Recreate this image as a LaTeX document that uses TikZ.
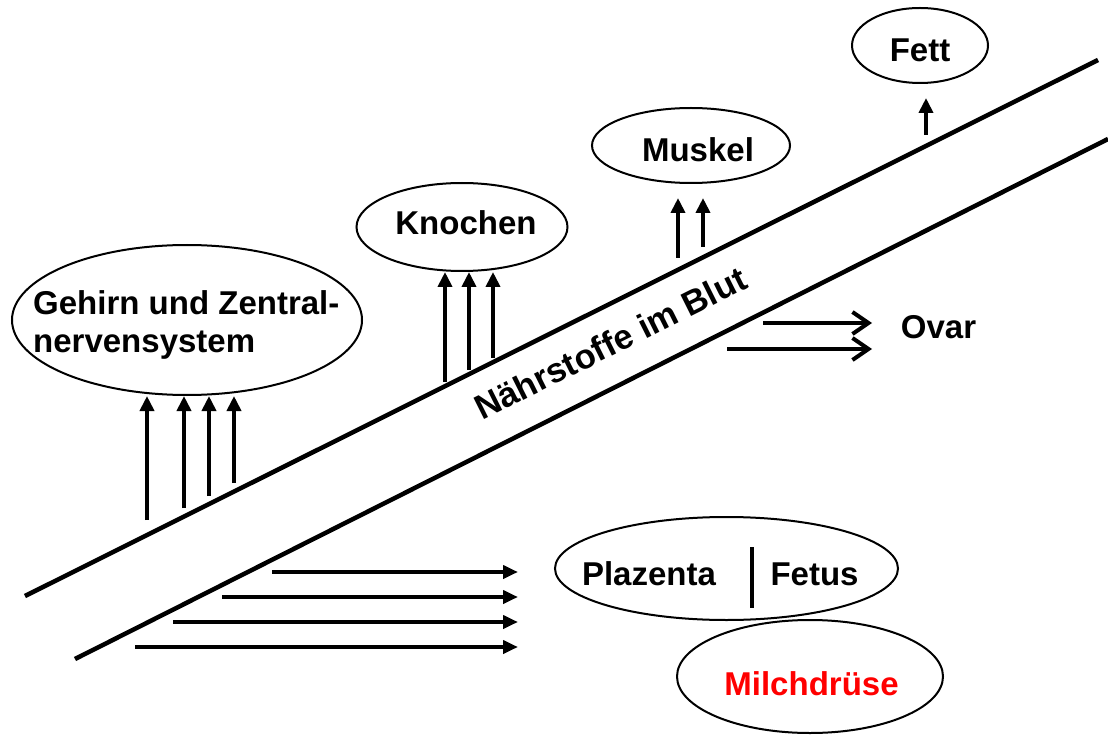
\documentclass[tikz,border=0pt]{standalone}
\usepackage{fontspec}
\setmainfont{Liberation Sans}
\usetikzlibrary{arrows.meta,shapes.geometric}
\begin{document}
\begin{tikzpicture}[x=1pt,y=-1pt,
  organ/.style={draw, line width=2pt, ellipse, inner sep=0pt},
  lbl/.style={font=\fontsize{33}{37}\selectfont\bfseries, inner sep=0pt, anchor=base},
  vessel/.style={line width=4.5pt},
  up/.style={line width=4pt, -{Triangle[length=15pt,width=14pt]}},
  flow/.style={line width=4pt, -{Triangle[length=15pt,width=13pt]}},
  open/.style={line width=4pt, -{Straight Barb[length=16pt,width=22pt]}},
  bar/.style={line width=4.5pt}
]
\useasboundingbox (0,0) rectangle (1108,735);

% blood vessel
\coordinate (v1a) at (25,596);
\coordinate (v1b) at (1098,60);
\coordinate (v2a) at (75,659);
\coordinate (v2b) at (1108,139);
\draw[vessel] (v1a) -- (v1b);
\draw[vessel] (v2a) -- (v2b);
\node[lbl, font=\fontsize{34.5}{37}\selectfont\bfseries, rotate=26.57] (blut) at (616,354) {Nährstoffe im Blut};

% organs
\node[organ, minimum width=350pt, minimum height=150pt] (g) at (187,320) {};
\node[lbl, anchor=base west] (g1) at (33,315) {Gehirn und Zentral-};
\node[lbl, anchor=base west] (g2) at (33,352) {nervensystem};

\node[organ, minimum width=211pt, minimum height=88pt] (k) at (462,227) {};
\node[lbl] (kl) at (466,235) {Knochen};

\node[organ, minimum width=198pt, minimum height=75pt] (m) at (691,145.5) {};
\node[lbl] (ml) at (698,162) {Muskel};

\node[organ, minimum width=136pt, minimum height=75pt] (f) at (920,45.5) {};
\node[lbl] (fl) at (920,62) {Fett};

\node[organ, minimum width=343pt, minimum height=103pt] (pf) at (726.5,568.5) {};
\node[lbl] (pl) at (649,585) {Plazenta};
\node[lbl] (fe) at (814.5,585) {Fetus};
\coordinate (bt) at (752,547);
\coordinate (bb) at (752,608);
\draw[bar] (bt) -- (bb);

\node[organ, minimum width=266pt, minimum height=113pt] (md) at (810,676.5) {};
\node[lbl, text=red] (mdl) at (811.5,695) {Milchdrüse};

\node[lbl] (ov) at (938.5,338) {Ovar};

% arrows to brain
\foreach \x/\y [count=\i] in {147/520,184/508,209/496,234/483}{
  \coordinate (ga\i) at (\x,\y);
  \draw[up] (ga\i) -- (ga\i |- g.south);
}
% arrows to bone
\foreach \x/\y [count=\i] in {445/382,469/370,493/358}{
  \coordinate (ka\i) at (\x,\y);
  \draw[up] (ka\i) -- (ka\i |- k.south);
}
% arrows to muscle
\foreach \x/\y [count=\i] in {678/258,703/247}{
  \coordinate (ma\i) at (\x,\y);
  \draw[up, shorten >=14pt] (ma\i) -- (ma\i |- m.south);
}
% arrow to fat
\coordinate (fa) at (926,135);
\draw[up, shorten >=14pt] (fa) -- (fa |- f.south);

% arrows to ovary
\coordinate (oa1) at (763,323);
\coordinate (oe1) at (872,323);
\coordinate (oa2) at (727,349);
\coordinate (oe2) at (872,349);
\draw[open] (oa1) -- (oe1);
\draw[open] (oa2) -- (oe2);

% arrows to placenta / fetus / mammary gland
\foreach \x/\y [count=\i] in {272/572,222/597,173/622,135/647}{
  \coordinate (pa\i) at (\x,\y);
  \coordinate (pe\i) at (518,\y);
  \draw[flow] (pa\i) -- (pe\i);
}
\end{tikzpicture}
\end{document}
